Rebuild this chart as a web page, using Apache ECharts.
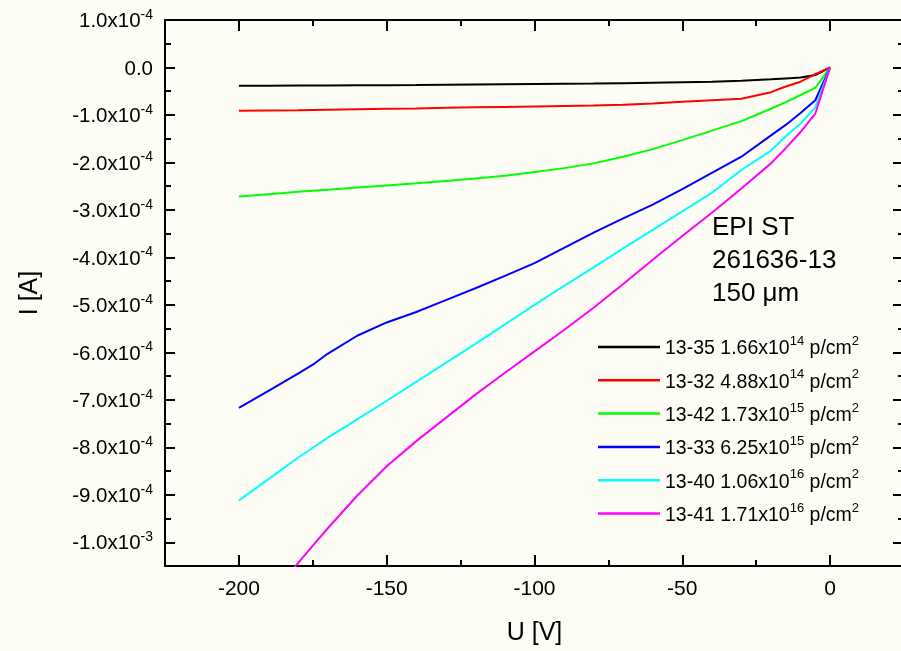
<!DOCTYPE html>
<html>
<head>
<meta charset="utf-8">
<script src="https://cdn.jsdelivr.net/npm/echarts@6/dist/echarts.min.js"></script>
<style>
html,body{margin:0;padding:0;background:#FDFDF5;}
#chart{width:901px;height:651px;}
</style>
</head>
<body>
<div id="chart"></div>
<script>
// Voltage points [V]
var voltage = [-200,-190,-180,-175,-170,-160,-150,-140,-130,-120,-110,-100,-90,-80,-70,-60,-50,-40,-30,-20,-15,-10,-5,0];

// Currents [A]
var i1335 = [-0.385e-4,-0.383e-4,-0.380e-4,-0.379e-4,-0.378e-4,-0.375e-4,-0.372e-4,-0.370e-4,-0.365e-4,-0.360e-4,-0.355e-4,-0.350e-4,-0.345e-4,-0.340e-4,-0.330e-4,-0.320e-4,-0.310e-4,-0.300e-4,-0.280e-4,-0.250e-4,-0.230e-4,-0.210e-4,-0.160e-4,0];
var i1332 = [-0.91e-4,-0.905e-4,-0.90e-4,-0.895e-4,-0.89e-4,-0.88e-4,-0.87e-4,-0.865e-4,-0.85e-4,-0.84e-4,-0.83e-4,-0.82e-4,-0.81e-4,-0.80e-4,-0.785e-4,-0.76e-4,-0.72e-4,-0.69e-4,-0.66e-4,-0.52e-4,-0.40e-4,-0.30e-4,-0.14e-4,0];
var i1342 = [-2.72e-4,-2.67e-4,-2.62e-4,-2.597e-4,-2.575e-4,-2.53e-4,-2.485e-4,-2.44e-4,-2.39e-4,-2.34e-4,-2.28e-4,-2.20e-4,-2.12e-4,-2.02e-4,-1.88e-4,-1.72e-4,-1.53e-4,-1.33e-4,-1.13e-4,-0.87e-4,-0.73e-4,-0.58e-4,-0.43e-4,0];
var i1333 = [-7.17e-4,-6.81e-4,-6.45e-4,-6.26e-4,-6.03e-4,-5.65e-4,-5.37e-4,-5.15e-4,-4.90e-4,-4.65e-4,-4.39e-4,-4.12e-4,-3.80e-4,-3.48e-4,-3.18e-4,-2.89e-4,-2.56e-4,-2.22e-4,-1.88e-4,-1.43e-4,-1.21e-4,-0.96e-4,-0.69e-4,0];
var i1340 = [-9.12e-4,-8.67e-4,-8.22e-4,-8.01e-4,-7.80e-4,-7.41e-4,-7.02e-4,-6.62e-4,-6.22e-4,-5.82e-4,-5.41e-4,-5.00e-4,-4.60e-4,-4.21e-4,-3.81e-4,-3.42e-4,-3.03e-4,-2.64e-4,-2.16e-4,-1.75e-4,-1.45e-4,-1.18e-4,-0.84e-4,0];
var i1341 = [-11.90e-4,-11.16e-4,-10.44e-4,-10.07e-4,-9.71e-4,-9.02e-4,-8.40e-4,-7.87e-4,-7.38e-4,-6.89e-4,-6.43e-4,-5.98e-4,-5.53e-4,-5.06e-4,-4.56e-4,-4.05e-4,-3.55e-4,-3.06e-4,-2.55e-4,-2.02e-4,-1.70e-4,-1.36e-4,-0.97e-4,0];

// Legend texts
var sampleIds = ['13-35','13-32','13-42','13-33','13-40','13-41'];
var fluenceMant = ['1.66','4.88','1.73','6.25','1.06','1.71'];
var fluenceExp = ['14','14','15','15','16','16'];
var colors = ['#000000','#FF0000','#00FF00','#0000FF','#00FFFF','#FF00FF'];
var currents = [i1335,i1332,i1342,i1333,i1340,i1341];

// Ticks
var xMajor = [-200,-150,-100,-50,0];
var xMinor = [-175,-125,-75,-25];
var yMajor = [-1.0e-3,-9e-4,-8e-4,-7e-4,-6e-4,-5e-4,-4e-4,-3e-4,-2e-4,-1e-4,0,1e-4];
var yMinor = [-9.5e-4,-8.5e-4,-7.5e-4,-6.5e-4,-5.5e-4,-4.5e-4,-3.5e-4,-2.5e-4,-1.5e-4,-0.5e-4,0.5e-4];
var annotation = ['EPI ST','261636-13','150 \u03BCm'];

var FONT = "'Liberation Sans', Arial, sans-serif";
var XMIN = -225, XMAX = 25, YMIN = -1.05e-3, YMAX = 1e-4;

function yLabel(v){
  if (Math.abs(v) < 1e-12) return '{b|0.0}';
  var s = v.toExponential(1).split('e');
  var exp = String(parseInt(s[1],10));
  return '{b|' + s[0] + 'x10}{s|' + exp + '}';
}

var chart = echarts.init(document.getElementById('chart'), null, {renderer:'canvas'});

function mkX(pos, vals, len, showLabel, showLine){
  return {
    type:'value', min:XMIN, max:XMAX, position:pos,
    axisLine:{show:showLine, onZero:false, lineStyle:{color:'#000',width:2}},
    axisTick:{show:true, inside:true, length:len, lineStyle:{color:'#000',width:2}, customValues:vals},
    axisLabel:{show:showLabel, customValues:vals, margin:13, color:'#000', fontFamily:FONT, fontSize:21,
      formatter:function(v){return String(Math.round(v));}},
    splitLine:{show:false}
  };
}
function mkY(pos, vals, len, showLabel, showLine){
  return {
    type:'value', min:YMIN, max:YMAX, position:pos,
    axisLine:{show:showLine, onZero:false, lineStyle:{color:'#000',width:2}},
    axisTick:{show:true, inside:true, length:len, lineStyle:{color:'#000',width:2}, customValues:vals},
    axisLabel:{show:showLabel, customValues:vals, margin:12, color:'#000', formatter:yLabel,
      rich:{
        b:{fontFamily:FONT, fontSize:20.5, lineHeight:24, verticalAlign:'bottom', color:'#000'},
        s:{fontFamily:FONT, fontSize:14, lineHeight:14, verticalAlign:'top', color:'#000'}
      }},
    splitLine:{show:false}
  };
}

var xAxes = [mkX('bottom', xMajor, 11, true, true), mkX('bottom', xMinor, 6, false, false),
             mkX('top', xMajor, 11, false, true), mkX('top', xMinor, 6, false, false)];
xAxes[0].name = 'U [V]';
xAxes[0].nameLocation = 'middle';
xAxes[0].nameGap = 55;
xAxes[0].nameTextStyle = {fontFamily:FONT, fontSize:25, color:'#000'};

var yAxes = [mkY('left', yMajor, 10, true, true), mkY('left', yMinor, 6, false, false),
             mkY('right', yMajor, 11, false, false), mkY('right', yMinor, 6, false, false)];
yAxes[0].name = 'I [A]';
yAxes[0].nameLocation = 'middle';
yAxes[0].nameGap = 122;
yAxes[0].nameTextStyle = {fontFamily:FONT, fontSize:25, color:'#000'};

var series = sampleIds.map(function(id, k){
  return {
    name:id, type:'line', xAxisIndex:0, yAxisIndex:0,
    data: voltage.map(function(u, i){ return [u, currents[k][i]]; }),
    showSymbol:false, symbol:'none', clip:true,
    lineStyle:{color:colors[k], width:2},
    itemStyle:{color:colors[k]},
    z:3
  };
});

var option = {
  backgroundColor:'#FDFDF5',
  animation:false,
  grid:{left:165, top:20, width:739, height:546, containLabel:false, outerBoundsMode:'none'},
  xAxis:xAxes,
  yAxis:yAxes,
  legend:{
    orient:'vertical', left:598, top:335, padding:0, itemGap:9.3, itemWidth:62, itemHeight:2.5,
    icon:'rect', data:sampleIds,
    formatter:function(name){
      var k = sampleIds.indexOf(name);
      return '{b|' + name + ' ' + fluenceMant[k] + 'x10}{s|' + fluenceExp[k] + '}{b| p/cm}{s|2}';
    },
    textStyle:{
      color:'#000',
      rich:{
        b:{fontFamily:FONT, fontSize:19.5, lineHeight:24, verticalAlign:'bottom', color:'#000'},
        s:{fontFamily:FONT, fontSize:13, lineHeight:13, verticalAlign:'top', color:'#000'}
      }
    }
  },
  graphic: annotation.map(function(t, i){
    return {type:'text', left:712, top:215 + i*33, style:{text:t, fontFamily:FONT, fontSize:26, fill:'#000'}};
  }),
  series:series
};
chart.setOption(option);
</script>
</body>
</html>
